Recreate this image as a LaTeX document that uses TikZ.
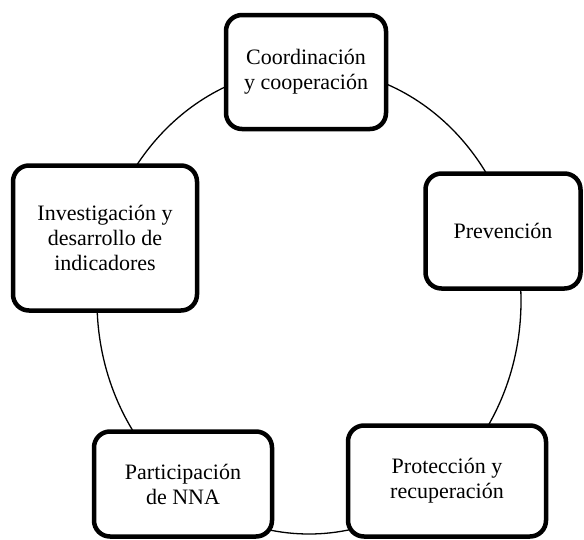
\documentclass[tikz,border=0pt]{standalone}
\usepackage{fontspec}
\setmainfont{Liberation Serif}
\usetikzlibrary{calc}

\tikzset{
  etapa/.style = {draw, line width = 4.5pt, rounded corners = 16pt, fill = white,
                  align = center, inner sep = 0pt,
                  font = \fontsize{22}{25}\selectfont},
  anillo/.style = {line width = 1.3pt}
}

\begin{document}
\begin{tikzpicture}[x = 1pt, y = -1pt]
  \useasboundingbox (0,0) rectangle (584,539);

  % Ring linking the stages (drawn first, boxes cover it)
  \coordinate (centro) at (309,301);
  \draw[anillo] (centro) ellipse (212pt and 233pt);

  % Stage boxes
  \node[etapa, minimum width = 160pt, minimum height = 114pt] (coord) at (306,72)
    {Coordinación\\ y cooperación};                              % Top
  \node[etapa, minimum width = 184pt, minimum height = 145pt] (inv) at (105,238)
    {Investigación y\\ desarrollo de\\ indicadores};              % Left
  \node[etapa, minimum width = 155pt, minimum height = 115pt] (prev) at (503,231)
    {Prevención};                                                % Right
  \node[etapa, minimum width = 178pt, minimum height = 105pt] (part) at (183,484)
    {Participación\\ de NNA};                                    % Bottom-left
  \node[etapa, minimum width = 198pt, minimum height = 111pt] (prot) at (447,481)
    {Protección y\\ recuperación};                               % Bottom-right
\end{tikzpicture}
\end{document}
